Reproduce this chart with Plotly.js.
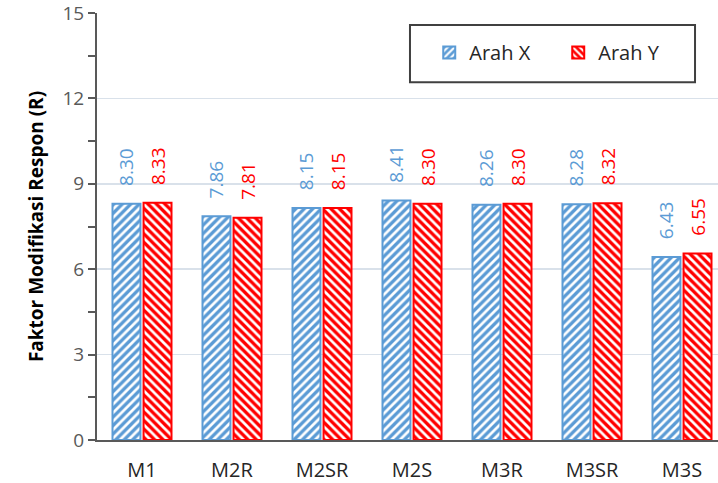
<!DOCTYPE html>
<html><head><meta charset="utf-8">
<script src="https://cdn.plot.ly/plotly-3.0.1.min.js"></script>
<style>html,body{margin:0;padding:0;overflow:hidden;background:#fff}</style>
</head><body><div id="chart" style="width:718px;height:483px"></div>
<script>
const categories = ["M1","M2R","M2SR","M2S","M3R","M3SR","M3S"];
const seriesNames = ["Arah X","Arah Y"];
const arahX = [8.30, 7.86, 8.15, 8.41, 8.26, 8.28, 6.43];
const arahY = [8.33, 7.81, 8.15, 8.30, 8.30, 8.32, 6.55];
const yTicks = [0,3,6,9,12,15];

const font = "Open Sans, Noto Sans, sans-serif";
const blue = "#5B9BD5", red = "#FF0000";

function bar(name, vals, color, shape){
  return {
    type:"bar", name:name, x:categories, y:vals,
    text: vals.map(v=>"\u00a0\u00a0\u00a0" + v.toFixed(2)), textposition:"outside", textangle:-90,
    constraintext:"none",
    textfont:{family:font, size:19, color:color},
    cliponaxis:false,
    marker:{color:color, line:{color:color, width:2},
      pattern:{shape:shape, fgcolor:"#ffffff", bgcolor:color, fgopacity:1, fillmode:"replace", size:6, solidity:0.45}},
    hoverinfo:"none"
  };
}
const data = [bar(seriesNames[0], arahX, blue, "/"), bar(seriesNames[1], arahY, red, "\\")];

const layout = {
  width:718, height:483,
  margin:{l:97, r:0, t:13, b:43, autoexpand:false},
  paper_bgcolor:"#fff", plot_bgcolor:"#fff",
  barmode:"group", bargap:0.31, bargroupgap:0.1,
  font:{family:font, color:"#595959"},
  xaxis:{type:"category", range:[-0.5,6.4], showline:true, linecolor:"#595959", linewidth:2,
    ticks:"", ticklabelstandoff:11, tickfont:{size:20, color:"#262626"}, fixedrange:true},
  yaxis:{range:[0,15], tickvals:yTicks, showline:true, linecolor:"#595959", linewidth:2,
    ticks:"outside", ticklen:7, tickcolor:"#595959", tickwidth:2, ticklabeloverflow:"allow",
    minor:{dtick:1.5, tick0:0, ticks:"outside", ticklen:7, tickcolor:"#595959", tickwidth:2, showgrid:false},
    gridcolor:"#D9E1EA", gridwidth:1.5, zeroline:false,
    tickfont:{size:19, color:"#595959"},
    title:{text:"<b>Faktor Modifikasi Respon (R)</b>", font:{size:19, color:"#000"}, standoff:14}},
  showlegend:true,
  legend:{orientation:"h", x:0.535, y:0.953, xanchor:"left", yanchor:"top",
    bgcolor:"rgba(0,0,0,0)", borderwidth:0, font:{size:20, color:"#262626"},
    entrywidth:84, itemwidth:30, traceorder:"normal"},
  shapes:[{type:"rect", xref:"paper", yref:"paper", x0:0.504, x1:0.963, y0:0.838, y1:0.972,
    line:{color:"#404040", width:2}, fillcolor:"rgba(0,0,0,0)"}]
};
Plotly.newPlot("chart", data, layout, {staticPlot:true, displayModeBar:false});
</script></body></html>
